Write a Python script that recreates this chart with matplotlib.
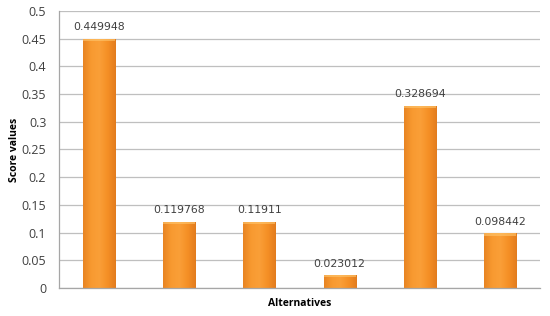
import numpy as np
import matplotlib
matplotlib.use("Agg")
import matplotlib.pyplot as plt
from matplotlib.colors import LinearSegmentedColormap

alternatives = ["A1", "A2", "A3", "A4", "A5", "A6"]
scores = [0.449948, 0.119768, 0.11911, 0.023012, 0.328694, 0.098442]
labels = ["0.449948", "0.119768", "0.11911", "0.023012", "0.328694", "0.098442"]
yticks = [0, 0.05, 0.1, 0.15, 0.2, 0.25, 0.3, 0.35, 0.4, 0.45, 0.5]
ytick_labels = ["0", "0.05", "0.1", "0.15", "0.2", "0.25", "0.3", "0.35", "0.4", "0.45", "0.5"]

fig = plt.figure(figsize=(5.5, 3.16), dpi=100)
ax = fig.add_axes([0.107, 0.0886, 0.875, 0.8766])

x = np.arange(len(alternatives))
bars = ax.bar(x, scores, width=0.4, color="#F7941D", edgecolor="#D0701C", linewidth=0.6, zorder=2)

cmap = LinearSegmentedColormap.from_list("og", ["#E88423", "#F89A30", "#FA9F38", "#F58F25", "#E27C1E"])
grad = np.linspace(0, 1, 128).reshape(1, -1)
for b in bars:
    bx, by = b.get_x(), b.get_y()
    w, h = b.get_width(), b.get_height()
    im = ax.imshow(grad, cmap=cmap, aspect="auto", extent=[bx, bx + w, by, by + h],
                   zorder=2.5, interpolation="bilinear")
    im.set_clip_path(b)
    cap_h = min(0.004, h * 0.3)
    ax.fill_between([bx, bx + w], by + h - cap_h, by + h, color="#FFC870", alpha=0.6,
                    zorder=2.6, linewidth=0)

for xi, v, lab in zip(x, scores, labels):
    ax.text(xi, v + 0.012, lab, ha="center", va="bottom", fontsize=7.8,
            family="DejaVu Sans", color="#404040")

ax.set_xlim(-0.5, len(alternatives) - 0.5)
ax.set_ylim(0, 0.5)
ax.set_yticks(yticks)
ax.set_yticklabels(ytick_labels, fontsize=9, family="Open Sans", color="#404040")
ax.set_xticks([])
ax.tick_params(axis="y", length=0, pad=9)
ax.grid(axis="y", color="#BFBFBF", linewidth=0.9, zorder=0)
ax.set_axisbelow(True)
for s in ["top", "right"]:
    ax.spines[s].set_visible(False)
ax.spines["left"].set_color("#A6A6A6")
ax.spines["bottom"].set_color("#A6A6A6")
ax.spines["left"].set_linewidth(0.9)
ax.spines["bottom"].set_linewidth(0.9)

ax.set_ylabel("Score values", fontsize=7.5, fontweight="bold", family="Open Sans", labelpad=1)
ax.set_xlabel("Alternatives", fontsize=7.5, fontweight="bold", family="Open Sans", labelpad=7)

fig.savefig("out.png", dpi=100)
